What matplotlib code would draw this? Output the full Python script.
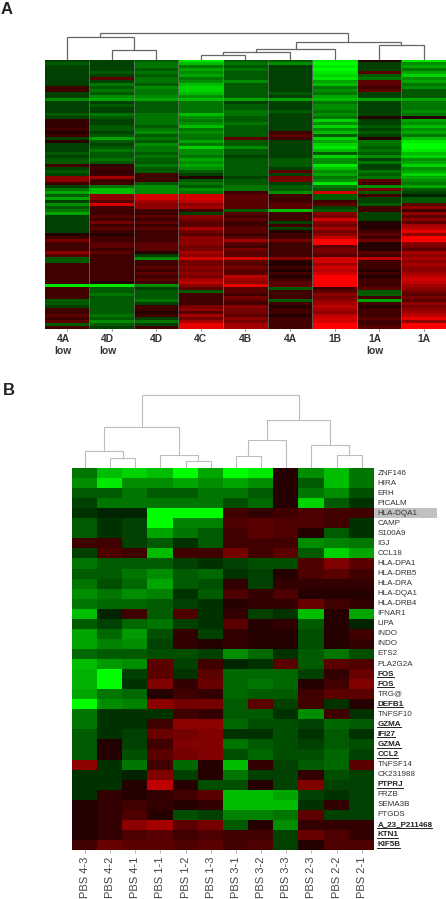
import matplotlib
matplotlib.use("Agg")
import matplotlib.pyplot as plt
import numpy as np
from matplotlib.colors import ListedColormap
from matplotlib.lines import Line2D
from matplotlib.patches import Rectangle

W, H = 446, 899
plt.rcParams['font.family'] = ['Liberation Sans', 'DejaVu Sans']

# ---------- Panel A data (one list per column, rows from top to bottom) ----------
a_labels = ["4A\nlow", "4D\nlow", "4D", "4C", "4B", "4A", "1B", "1A\nlow", "1A"]
a_4A_low = [-2,-3,-2,-2,-2,-2,-2,-2,-2,2,2,-2,-2,-5,-2,-2,-2,-2,-3,-2,1.5,1.5,1.5,2,1,2,-2,1,-2,-2,-2,-3,-2,-3,-3,2,-2,-3,-2,5,5,2,-2,-4,-6,-3,-6,
            -2,-5,-3,-4,-6,-2,-2,-2,-2,-2,-2,1,2,4,2,2,2,5,3,-3,-3,2,2,2,2,2,2,2,-9,2,2,2,2,-3,-3,-2,2,2,3,2,3,-3,2]
a_4D_low = [-2,-2,-2,-2,-3,-2,3,-2,-4,-3,-4,-3,-5,-6,-2,-3,-2,-2,-4,-3,-2,-2,-3,-3,-2,-3,-6,-3,-2,-3,-4,-3,-3,-4,-3,1.5,2,1.5,2,6,2,2,-4,-7,-7,5,5,
            3,8,2,2,2,3,2,4,2,3,2,1,2,2,3,3,2,3,2,2,2,2,2,2,2,2,2,1,-9,-3,-3,-4,-3,-3,-3,-3,-3,-3,-4,-3,-5,-3,-2]
a_4D = [-3,-4,-4,-3,-4,-3,-4,-4,-3,-5,-4,-4,-5,-6,-3,-3,-3,-3,-4,-4,-4,-4,-3,-4,-5,-3,-4,-3,-5,-4,-4,-3,-4,-3,-3,-4,-3,-3,2,2,2,-3,-5,-5,-5,8,8,
        6,5,5,2,2,3,2,3,2,3,2,2,2,2,3,3,3,1,-2,-5,2,2,3,2,3,2,3,2,-5,-2,-3,-3,-3,-4,-2,2,2,1,2,-2,-4,-2,2]
a_4C = [-9,-7,-4,-6,-5,-6,-4,-5,-7,-8,-8,-7,-5,-7,-4,-4,-4,-4,-7,-5,-4,-5,-7,-4,-5,-4,-4,-6,-4,-8,-5,-5,-4,-6,-5,-6,-5,-3,-2,1,-3,-4,-3,-5,-4,8,8,
        7,5,6,2,-2,5,4,3,3,6,4,3,5,5,5,4,4,6,5,8,4,4,5,4,5,4,6,7,5,3,-3,2,2,2,2,4,5,3,6,4,6,9,9]
a_4B = [-3,-4,-3,-4,-3,-3,-3,-5,-3,-3,-3,-3,-3,-6,-2,-3,-3,-4,-4,-3,-3,-4,-3,-3,-3,-3,3,-3,-3,-5,-3,-3,-2,-3,-3,-3,-3,-3,-3,-2,-3,-3,-4,-4,2,3,3,
        3,3,3,-3,3,2,3,2,2,3,3,2,3,6,3,2,4,3,3,8,3,3,4,3,3,7,6,5,9,3,3,2,4,3,2,5,4,4,3,5,4,6,6]
a_4A = [-3,-5,-2,-2,-2,-2,-2,-2,-2,-2,-2,-3,-2,-6,-2,-2,-2,-3,-2,-2,-2,-2,-2,-2,2,3,2,-2,-2,-2,-2,-2,-2,-3,-3,-3,-2,3,-2,4,4,-2,-3,-3,-5,2,2,
        2,3,3,-7,2,2,2,-2,2,-2,1,2,2,4,2,2,2,2,2,5,1,1,2,1,2,1,2,3,3,-3,2,2,2,-3,2,1,2,2,1,2,2,2,2]
a_1B = [-9,-10,-9,-10,-9,-8,-9,-6,-7,-4,-5,-4,-6,-7,-4,-5,-5,-4,-5,-4,-8,-5,-8,-5,-7,-3,-8,-6,-8,-9,-7,-3,-8,-5,-5,-9,-7,-5,-6,-4,-5,-9,-4,-3,8,-3,-3,
        2,3,-2,-3,5,4,8,5,4,6,4,5,7,10,10,3,4,4,3,8,8,6,8,7,8,10,10,10,10,2,3,5,4,5,6,7,6,5,7,8,8,10,10]
a_1A_low = [1,-2,-2,-2,3,-3,-4,3,3,2,3,-2,-2,-6,-2,-2,-2,-2,-2,1,-2,-2,-3,-2,-3,-2,1,-4,-4,-3,-4,-3,-5,-2,-4,-2,-2,-4,-3,-4,3,2,-5,4,-3,2,-2,
            -2,-3,2,2,-2,-2,-2,1,1,1,2,3,2,4,1,1,1,3,2,7,2,2,2,1,2,1,2,2,2,3,-3,-3,2,-6,2,1,2,2,2,3,2,2,3]
a_1A = [-9,-5,-6,-4,-6,-8,-5,-6,-4,-5,-3,-3,-3,-6,-4,-4,-4,-5,-4,1,-6,-5,-7,-5,-6,-4,-7,-9,-10,-10,-9,-7,-8,-5,-6,-8,-5,-6,-8,-6,-5,-4,-6,-3,-2,-1,-3,
        -3,3,5,2,5,3,5,3,6,7,9,5,10,10,5,4,3,6,5,6,5,6,5,5,6,7,8,7,6,5,4,3,4,3,5,4,5,6,7,9,5,10,10]

# Dendrogram A: merges of (left, right, height); leaves are 0..8, new nodes 9..
a_left   = [1, 0, 3, 11, 12, 7, 13, 10]
a_right  = [2, 9, 4, 5, 6, 8, 14, 15]
a_height = [10.0, 23.0, 5.0, 7.7, 11.3, 15.0, 17.7, 26.7]

# ---------- Panel B data ----------
b_samples = ["PBS 4-3","PBS 4-2","PBS 4-1","PBS 1-1","PBS 1-2","PBS 1-3","PBS 3-1","PBS 3-2","PBS 3-3","PBS 2-3","PBS 2-2","PBS 2-1"]
b_genes = ["ZNF146","HIRA","ERH","PICALM","HLA-DQA1","CAMP","S100A9","IGJ","CCL18","HLA-DPA1","HLA-DRB5","HLA-DRA","HLA-DQA1","HLA-DRB4",
           "IFNAR1","LIPA","INDO","INDO","ETS2","PLA2G2A","FOS","FOS","TRG@","DEFB1","TNFSF10","GZMA","IFI27","GZMA","CCL2","TNFSF14",
           "CK231988","PTPRJ","FRZB","SEMA3B","PTGDS","A_23_P211468","KTN1","KIF5B"]
b_bold = ["FOS","DEFB1","GZMA","IFI27","CCL2","PTPRJ","A_23_P211468","KTN1","KIF5B"]
r_znf146 = [-4,-7,-8,-7,-10,-6,-10,-9,1,-5,-7,-4]
r_hira = [-5,-9,-5,-5,-6,-5,-6,-5,1,-3,-7,-4]
r_erh = [-3,-3,-4,-3,-3,-4,-4,-3,1,-4,-5,-2.5]
r_picalm = [-2,-4,-4,-4,-4,-4,-2.5,-3.5,1,-8,-3,-1.5]
r_dqa1a = [-1.5,-1,-1,-10,-10,-10,2,1.5,2,2.5,2,2]
r_camp = [-3,-1.5,-2,-10,-4.5,-4.5,2.5,3,2.5,2.5,2,-1.5]
r_s100 = [-3,-1.5,-2,-6,-4,-3,2,3,2.5,1,-3,-1.5]
r_igj = [2,2,-2,-3,-1.5,-3,2,2,2,-5,-4.5,-4]
r_ccl18 = [-2,2.5,2,-7,2,2,4,2,3,-3,-8,-6]
r_dpa1 = [-4,-3,-3,-3,-2,-1.5,-2,-2.5,-2.5,2.5,4.5,3]
r_drb5 = [-3,-3,-4,-5,-3,-3.5,-1.5,-2,1,2.5,3,2]
r_dra = [-4,-2.5,-3.5,-6,-3,-2.5,1.5,-2,1.5,1.5,1.5,1.5]
r_dqa1b = [-5,-4,-5,-4.5,-1.5,-3,2.5,1.5,2.5,1,1,1]
r_drb4 = [-4,-3.5,-3.5,-3,-2,-1.5,1,1.5,1.5,3.5,2,1.5]
r_ifnar1 = [-7,-1,2,-3,2.5,-1.5,1.5,-2,-1.5,-7,1,-6]
r_lipa = [-3,-2,-3.5,-4,-2,-1.5,3,1,1.5,-3,1,-1]
r_indoa = [-6,-3.5,-5.5,-2.5,1.5,-2,1.5,1,1,-2.5,1,2]
r_indob = [-6,-4.5,-5,-2,1.5,1,1.5,1,1,-2.5,1,1.5]
r_ets2 = [-3.5,-3,-3,-2.5,-2.5,-2,-5,-3.5,-1.5,-3,-4,-2.5]
r_pla2 = [-7,-5.5,-5,3,-2,2,-1,-1.5,3,-3,3,2.5]
r_fosa = [-6.5,-10,-2,3,-1.5,3,-3.5,-3.5,-3.5,-2,1.5,3.5]
r_fosb = [-6.5,-10,-1.5,4.5,1.5,3.5,-3.5,-4,-3.5,1,2,4.5]
r_trg = [-6,-4,-3.5,1,2,1.5,-3.5,-3,-3,2,3,3]
r_defb1 = [-10,-5,-4.5,5,4,4,-3,3,-2,2,-1.5,1]
r_tnfsf10 = [-4,-1.5,-1.5,-1.5,2,1.5,-3,-3,-1.5,-5,2,-1.5]
r_gzmaa = [-4,-1.5,-1.5,2,5,5,-3.5,-2.5,-2.5,-2,-3.5,-3]
r_ifi27 = [-3,-1.5,-2,3.5,4,4.5,-1.5,-1.5,-2.5,-1.5,-3,-1.5]
r_gzmab = [-3,1,-2,2,4.5,4.5,-4,-3,-2.5,-2,-3,-2.5]
r_ccl2 = [-3,1,-2.5,3,4,4.5,-2.5,-3.5,-2.5,-2.5,-3.5,-2]
r_tnfsf14 = [5,-1.5,-4,2,-3.5,1,-7,1.5,-2,-3,-3.5,3]
r_ck = [-1.5,-1.5,-1,4.5,-2,1,-4,-2,-2,1.5,-2.5,-2]
r_ptprj = [-1.5,-1.5,1,7,1,-2.5,-2.5,1,-2,4.5,-2,-2]
r_frzb = [-1.5,1.5,1,1.5,2,3,-7,-7,-6,-2,-1.5,-2]
r_sema = [1,1.5,2,1.5,1,1.5,-7,-7,-7,-1.5,1.5,-2]
r_ptgds = [1,1.5,2.5,1,-2.5,-2,-4.5,-4.5,-4,3,-2,-2]
r_a23 = [1,1.5,5,6,3,4,-3,1,-5,1.5,1.5,1.5]
r_ktn1 = [1,1.5,2.5,3,2,2.5,2,2,-2,3.5,2.5,1.5]
r_kif5b = [2,3.5,3,3,2.5,3,2,2.5,-2,1,2.5,2.5]

b_left   = [1, 0, 4, 3, 13, 6, 17, 10, 9, 18, 16]
b_right  = [2, 12, 5, 14, 15, 7, 8, 11, 19, 20, 21]
b_height = [10.3, 16.7, 6.7, 13.3, 41.3, 11.7, 27.7, 12.7, 22.7, 47.7, 73.3]

# ---------- Helpers ----------
# green-black-red scale with a lifted low end
_s = np.linspace(-1, 1, 513)
_m = np.abs(_s) ** 0.85
cmap = ListedColormap(np.c_[np.where(_s > 0, _m, 0), np.where(_s < 0, _m, 0), np.zeros_like(_s)])

fig = plt.figure(figsize=(W / 100, H / 100), dpi=100)

def axes_px(x0, y0, x1, y1):
    return fig.add_axes([x0 / W, 1 - y1 / H, (x1 - x0) / W, (y1 - y0) / H])

def dendrogram(ax, n, left, right, height, color, lw):
    pos = {i: (i + 0.5, 0.0) for i in range(n)}
    for k, (l, r, h) in enumerate(zip(left, right, height)):
        xl, yl = pos[l]
        xr, yr = pos[r]
        ax.plot([xl, xl, xr, xr], [yl, h, h, yr], color=color, lw=lw, solid_joinstyle='miter')
        pos[n + k] = ((xl + xr) / 2, h)
    ax.set_xlim(0, n)
    ax.set_ylim(0, max(height) + 2)
    ax.axis('off')

# ---------- Panel A ----------
matrix_a = np.array([a_4A_low, a_4D_low, a_4D, a_4C, a_4B, a_4A, a_1B, a_1A_low, a_1A], dtype=float).T
ax_a = axes_px(44.7, 60, 446, 329)
ax_a.imshow(matrix_a, cmap=cmap, vmin=-10, vmax=10, aspect='auto', extent=(0, 9, matrix_a.shape[0], 0), interpolation='nearest')
ax_a.vlines(np.arange(1, 9), 0, matrix_a.shape[0], color='#7a7a7a', lw=0.6, alpha=0.8)
ax_a.set_yticks([])
ax_a.set_xticks(np.arange(9) + 0.5)
ax_a.set_xticklabels([])
ax_a.tick_params(axis='x', length=1.5, width=0.6, color='#666666')
for s in ax_a.spines.values():
    s.set_visible(False)
for i, lab in enumerate(a_labels):
    off = -4 if "low" in lab else 0
    ax_a.annotate(lab, xy=(i + 0.5, 0), xycoords=('data', 'axes fraction'), xytext=(off * 0.72, -3.4),
                  textcoords='offset points', ha='center', va='top', fontsize=7.4, fontweight='bold',
                  color='#333333', linespacing=1.25)

ax_da = axes_px(44.7, 60 - 28.7, 446, 60)
dendrogram(ax_da, 9, a_left, a_right, a_height, '#666666', 0.9)

# ---------- Panel B ----------
matrix_b = np.array([r_znf146, r_hira, r_erh, r_picalm, r_dqa1a, r_camp, r_s100, r_igj, r_ccl18, r_dpa1, r_drb5, r_dra,
                     r_dqa1b, r_drb4, r_ifnar1, r_lipa, r_indoa, r_indob, r_ets2, r_pla2, r_fosa, r_fosb, r_trg, r_defb1,
                     r_tnfsf10, r_gzmaa, r_ifi27, r_gzmab, r_ccl2, r_tnfsf14, r_ck, r_ptprj, r_frzb, r_sema, r_ptgds,
                     r_a23, r_ktn1, r_kif5b], dtype=float)
ax_b = axes_px(72.3, 468, 374.3, 850)
ax_b.imshow(matrix_b, cmap=cmap, vmin=-10, vmax=10, aspect='auto', extent=(0, 12, 38, 0), interpolation='nearest')
ax_b.set_xticks(np.arange(12) + 0.5)
ax_b.set_xticklabels([])
ax_b.set_yticks([])
ax_b.tick_params(axis='x', length=2, width=0.5, color='#999999')
for s in ax_b.spines.values():
    s.set_visible(False)

for i, name in enumerate(b_samples):
    ax_b.annotate(name, xy=(i + 0.5, 0), xycoords=('data', 'axes fraction'), xytext=(0, -5),
                  textcoords='offset points', ha='center', va='top', rotation=90, fontsize=8,
                  color='#444444', annotation_clip=False)

gene_texts = []
for i, g in enumerate(b_genes):
    bold = g in b_bold
    t = ax_b.annotate(g, xy=(1, i + 0.5), xycoords=('axes fraction', 'data'), xytext=(2.2, 0),
                      textcoords='offset points', ha='left', va='center', fontsize=5.8,
                      fontweight='bold' if bold else 'normal', color='#222222' if bold else '#333333')
    gene_texts.append((t, bold))

# grey highlight behind the first HLA-DQA1 label
ax_b.add_patch(Rectangle((12, 4), 63 / (302 / 12), 1, facecolor='#c0c0c0', edgecolor='none', clip_on=False, zorder=0))

ax_db = axes_px(72.3, 468 - 75.3, 374.3, 468)
dendrogram(ax_db, 12, b_left, b_right, b_height, '#bdbdbd', 0.8)

# Panel letters
fig.text(1 / W, 1 - 14.5 / H, "A", fontsize=12, fontweight='bold', color='#222222', va='baseline', ha='left')
fig.text(2.5 / W, 1 - 395 / H, "B", fontsize=12, fontweight='bold', color='#222222', va='baseline', ha='left')

# Underlines for the bold gene labels
fig.canvas.draw()
rend = fig.canvas.get_renderer()
for t, bold in gene_texts:
    if bold:
        bb = t.get_window_extent(rend)
        y = bb.y0 + 0.4
        fig.add_artist(Line2D([bb.x0 / W, bb.x1 / W], [y / H, y / H], transform=fig.transFigure, color='#222222', lw=0.7))

fig.savefig("out.png", dpi=100)
